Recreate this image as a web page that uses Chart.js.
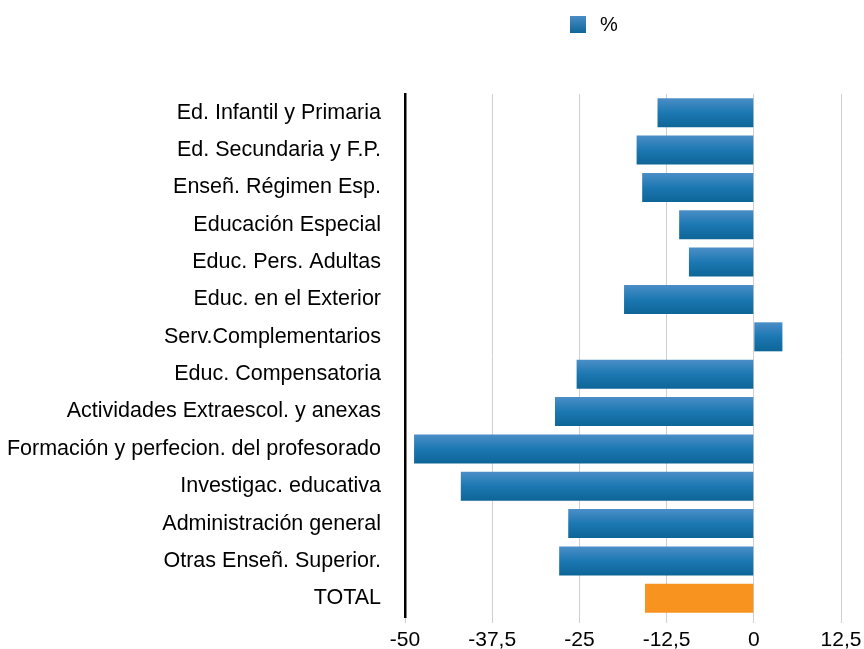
<!DOCTYPE html>
<html>
<head>
<meta charset="utf-8">
<script src="https://cdn.jsdelivr.net/npm/chart.js@4"></script>
<style>
  body { margin: 0; background: #fff; }
  #wrap { position: relative; width: 864px; height: 649px; }
  #legend { position: absolute; left: 570px; top: 13px; font: 20px "Liberation Sans", Arial, sans-serif; color: #000; display: flex; align-items: center; }
  #legend .box { width: 16px; height: 17px; background: linear-gradient(#4a8cc6, #0e6699); margin-right: 14px; }
</style>
</head>
<body>
<div id="wrap">
  <div id="legend"><span class="box"></span><span>%</span></div>
  <canvas id="myChart" width="864" height="649"></canvas>
</div>
<script>
var labels = [
  "Ed. Infantil y Primaria",
  "Ed. Secundaria y F.P.",
  "Enseñ. Régimen Esp.",
  "Educación Especial",
  "Educ. Pers. Adultas",
  "Educ. en el Exterior",
  "Serv.Complementarios",
  "Educ. Compensatoria",
  "Actividades Extraescol. y anexas",
  "Formación y perfecion. del profesorado",
  "Investigac. educativa",
  "Administración general",
  "Otras Enseñ. Superior.",
  "TOTAL"
];
var values = [-13.8, -16.8, -16.0, -10.7, -9.3, -18.6, 4.1, -25.4, -28.5, -48.7, -42.0, -26.6, -27.9, -15.6];
var tickValues = [-50, -37.5, -25, -12.5, 0, 12.5];

function barColor(ctx) {
  var chart = ctx.chart;
  if (labels[ctx.dataIndex] == "TOTAL") return "#f7931e";
  var y = chart.scales.y;
  if (!chart.chartArea || !y || y.getPixelForValue(ctx.dataIndex) == null) return "#1f76b0";
  var c = y.getPixelForValue(ctx.dataIndex);
  var h = 15;
  var g = chart.ctx.createLinearGradient(0, c - h, 0, c + h);
  g.addColorStop(0, "#4d8fc8");
  g.addColorStop(0.5, "#1c78b2");
  g.addColorStop(1, "#0d6496");
  return g;
}

const data = {
  labels: labels,
  datasets: [
    {
      label: "%",
      data: values,
      backgroundColor: barColor,
      borderWidth: 0,
      categoryPercentage: 0.8,
      barPercentage: 0.97,
    },
  ],
};

const config = {
  type: "bar",
  data: data,
  options: {
    indexAxis: "y",
    responsive: false,
    animation: false,
    layout: { padding: { top: 94, right: 0, left: 0, bottom: 0 } },
    plugins: {
      legend: { display: false },
      tooltip: { enabled: false },
    },
    scales: {
      x: {
        min: -50,
        max: 12.5,
        afterBuildTicks: function (axis) {
          axis.ticks = tickValues.map(function (v) { return { value: v }; });
        },
        afterFit: function (scale) {
          scale.height = 32;
          scale.paddingRight = 23;
          scale.paddingLeft = 0;
        },
        grid: { color: "#cfcfcf", lineWidth: 1, tickLength: 6 },
        border: { display: false },
        ticks: {
          color: "#000",
          font: { family: "Liberation Sans", size: 21, lineHeight: 1 },
          padding: 7,
          maxRotation: 0,
          callback: function (v) { return String(v).replace(".", ","); },
        },
      },
      y: {
        afterFit: function (scale) {
          scale.width = 405;
          scale.paddingTop = 0;
          scale.paddingBottom = 0;
        },
        grid: { display: false, drawTicks: false },
        border: { display: true, color: "#000", width: 2.5 },
        ticks: {
          color: "#000",
          font: { family: "Liberation Sans", size: 21.5 },
          padding: 24,
        },
      },
    },
  },
};

const myChart = new Chart(document.getElementById("myChart"), config);
</script>
</body>
</html>
